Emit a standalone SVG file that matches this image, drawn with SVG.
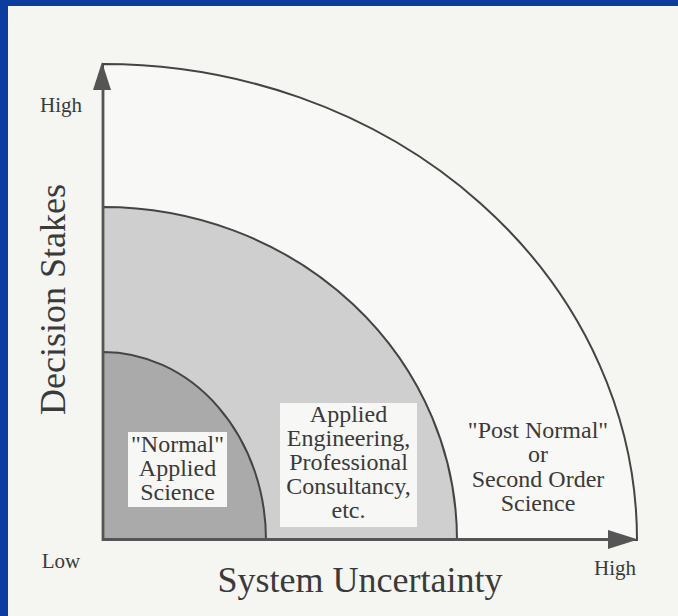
<svg xmlns="http://www.w3.org/2000/svg" width="678" height="616" viewBox="0 0 678 616">
<defs>
<style>
.t{font-family:"Liberation Serif","Times New Roman",serif;fill:#3a3a3a;text-anchor:middle}
.box{font-size:24px}
.arc{stroke:#444;stroke-width:2}
.axis{stroke:#555;stroke-width:2.8;fill:none}
.head{fill:#555}
</style>
</defs>
<rect x="0" y="0" width="678" height="616" fill="#0c3d9e"/>
<rect x="8" y="6" width="670" height="610" fill="#f5f5f2"/>
<g id="outer-region">
<path class="arc" d="M103,540 L103,64 A534,476 0 0 1 637,540 Z" fill="#f8f8f6"/>
<text class="t box" x="538" y="438">"Post Normal"</text>
<text class="t box" x="538" y="462">or</text>
<text class="t box" x="538" y="487">Second Order</text>
<text class="t box" x="538" y="511">Science</text>
</g>
<g id="middle-region">
<path class="arc" d="M103,540 L103,207 A354,333 0 0 1 457,540 Z" fill="#cfcfcf"/>
<rect x="280" y="403" width="137" height="124" fill="#f7f7f5"/>
<text class="t box" x="348.5" y="422">Applied</text>
<text class="t box" x="348.5" y="446">Engineering,</text>
<text class="t box" x="348.5" y="470">Professional</text>
<text class="t box" x="348.5" y="494">Consultancy,</text>
<text class="t box" x="348.5" y="518">etc.</text>
</g>
<g id="inner-region">
<path class="arc" d="M103,540 L103,352 A163,188 0 0 1 266,540 Z" fill="#aaaaaa"/>
<rect x="128" y="432" width="99" height="75" fill="#f7f7f5"/>
<text class="t box" x="177.5" y="452">"Normal"</text>
<text class="t box" x="177.5" y="476">Applied</text>
<text class="t box" x="177.5" y="500">Science</text>
</g>
<g id="connectors">
<line class="axis" x1="103" y1="541" x2="103" y2="86"/>
<polygon class="head" points="102,62 93,90 111,90"/>
<line class="axis" x1="102" y1="539.5" x2="610" y2="539.5"/>
<polygon class="head" points="638,539.5 608,530 608,549"/>
</g>
<g id="labels">
<text class="t" x="61" y="112" font-size="21">High</text>
<text class="t" x="61" y="568" font-size="21">Low</text>
<text class="t" x="615" y="575" font-size="21">High</text>
<text class="t" x="360" y="592" font-size="36">System Uncertainty</text>
<text class="t" transform="translate(65,299.5) rotate(-90)" x="0" y="0" font-size="36">Decision Stakes</text>
</g>
</svg>
